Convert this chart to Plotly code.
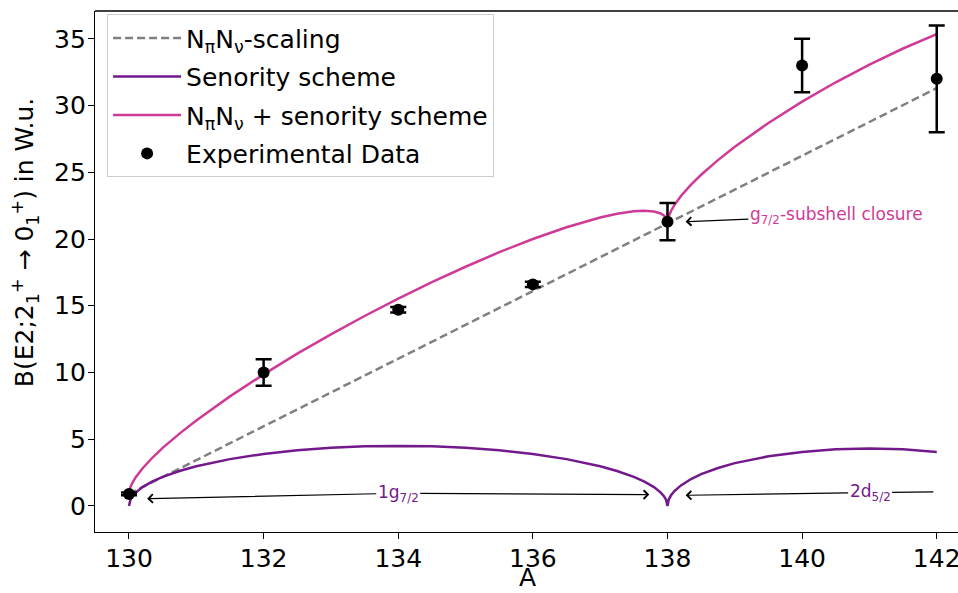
import plotly.graph_objects as go

# Mass number grid for the model curves (denser near the shell closures)
A_model = [130.0, 130.02, 130.05, 130.1, 130.2, 130.35, 130.5, 130.75, 131.0, 131.5,
           132.0, 132.5, 133.0, 133.5, 134.0, 134.5, 135.0, 135.5, 136.0, 136.5,
           137.0, 137.25, 137.5, 137.65, 137.8, 137.9, 137.95, 137.98, 138.0,
           138.02, 138.05, 138.1, 138.2, 138.35, 138.5, 138.75, 139.0, 139.5,
           140.0, 140.5, 141.0, 141.5, 142.0]

# Seniority-scheme B(E2) in W.u.
B_seniority = [0.0, 0.45, 0.71, 1.00, 1.41, 1.84, 2.18, 2.62, 2.98, 3.51,
               3.90, 4.17, 4.36, 4.47, 4.50, 4.47, 4.36, 4.17, 3.90, 3.51,
               2.98, 2.62, 2.18, 1.84, 1.41, 1.00, 0.71, 0.45, 0.0,
               0.50, 0.78, 1.10, 1.54, 2.02, 2.38, 2.84, 3.21, 3.72,
               4.05, 4.24, 4.30, 4.24, 4.05]

# N_pi N_nu + seniority scheme B(E2) in W.u.
B_combined = [0.90, 1.40, 1.74, 2.15, 2.81, 3.63, 4.35, 5.42, 6.41, 8.21,
              9.86, 11.41, 12.86, 14.23, 15.53, 16.77, 17.92, 19.01, 20.00, 20.88,
              21.61, 21.89, 22.08, 22.12, 22.06, 21.91, 21.75, 21.56, 21.17,
              21.71, 22.08, 22.52, 23.22, 24.07, 24.81, 25.91, 26.91, 28.69,
              30.29, 31.74, 33.07, 34.27, 35.35]

# N_pi N_nu scaling (straight line)
A_scaling = [130.0, 142.0]
B_scaling = [0.9, 31.3]

# Experimental values
A_exp = [130, 132, 134, 136, 138, 140, 142]
B_exp = [0.9, 10.0, 14.7, 16.6, 21.3, 33.0, 32.0]
B_exp_err = [0.1, 1.0, 0.2, 0.2, 1.4, 2.0, 4.0]

x_ticks = [130, 132, 134, 136, 138, 140, 142]
y_ticks = [0, 5, 10, 15, 20, 25, 30, 35]

X_TITLE = "A"
Y_TITLE = "B(E2;2<sub>1</sub><sup>+</sup> → 0<sub>1</sub><sup>+</sup>) in W.u."

PINK = "#cf3a97"
PURPLE = "#73198c"
GRAY = "#808080"

fig = go.Figure()

fig.add_trace(go.Scatter(
    x=A_scaling, y=B_scaling, mode="lines", legendgroup="g1",
    name="N<sub>π</sub>N<sub>ν</sub>-scaling",
    line=dict(color=GRAY, width=2.5, dash="8px,4px"),
))
fig.add_trace(go.Scatter(
    x=A_model, y=B_seniority, mode="lines", legendgroup="g2",
    name="Senority scheme",
    line=dict(color=PURPLE, width=2.5),
))
fig.add_trace(go.Scatter(
    x=A_model, y=B_combined, mode="lines", legendgroup="g3",
    name="N<sub>π</sub>N<sub>ν</sub> + senority scheme",
    line=dict(color=PINK, width=2.5),
))
fig.add_trace(go.Scatter(
    x=A_exp, y=B_exp, mode="markers", legendgroup="g4",
    name="Experimental Data",
    marker=dict(color="black", size=12),
    error_y=dict(type="data", array=B_exp_err, visible=True,
                 color="black", thickness=2.5, width=8),
))

arrow = dict(xref="x", yref="y", axref="x", ayref="y", showarrow=True,
             arrowcolor="black", arrowwidth=1.2, arrowhead=4, arrowsize=1.4,
             standoff=0)

annotations = [
    dict(text="g<sub>7/2</sub>-subshell closure", font=dict(size=17, color=PINK),
         x=138.27, y=21.3, ax=140.51, ay=21.75, **arrow),
    dict(text="1g<sub>7/2</sub>", font=dict(size=17, color=PURPLE),
         x=130.27, y=0.55, ax=134.0, ay=0.95, **arrow),
    dict(text="1g<sub>7/2</sub>", font=dict(size=17, color="rgba(0,0,0,0)"),
         x=137.73, y=0.85, ax=134.0, ay=0.95, **arrow),
    dict(text="2d<sub>5/2</sub>", font=dict(size=17, color=PURPLE),
         x=138.27, y=0.8, ax=141.01, ay=1.0, **arrow),
]
line_only = dict(arrow)
line_only["arrowhead"] = 0
annotations.append(dict(text="2d<sub>5/2</sub>", font=dict(size=17, color="rgba(0,0,0,0)"),
                        x=141.95, y=1.05, ax=141.01, ay=1.0, **line_only))

# Axis titles placed as paper-anchored labels
annotations.append(dict(text=X_TITLE, xref="paper", yref="paper", x=0.501, y=-0.087,
                        xanchor="center", yanchor="middle", showarrow=False,
                        font=dict(size=25, color="black")))
annotations.append(dict(text=Y_TITLE, xref="paper", yref="paper", x=-0.0811, y=0.5544,
                        xanchor="center", yanchor="middle", showarrow=False,
                        textangle=-90, font=dict(size=25, color="black")))

fig.update_layout(
    width=958, height=593,
    margin=dict(l=95, r=0, t=11, b=61),
    plot_bgcolor="white", paper_bgcolor="white",
    font=dict(family="DejaVu Sans", size=25, color="black"),
    showlegend=True,
    legend=dict(x=0.014, y=0.994, xanchor="left", yanchor="top",
                bgcolor="rgba(255,255,255,0.8)", bordercolor="#cccccc",
                borderwidth=1, font=dict(size=25), itemwidth=68,
                tracegroupgap=3),
    annotations=annotations,
    shapes=[dict(type="line", xref="paper", yref="paper", x0=0, x1=1, y0=1, y1=1,
                 line=dict(color="black", width=1.3))],
)

fig.update_xaxes(
    range=[129.495, 142.316], tickvals=x_ticks, ticks="outside", ticklen=6,
    tickwidth=1.3, tickcolor="black", showline=True, linewidth=1.3,
    linecolor="black", showgrid=False, zeroline=False, automargin=False,
    ticklabeloverflow="allow", ticklabelstandoff=-2, tickfont=dict(size=25),
)
fig.update_yaxes(
    range=[-1.95, 37.08], tickvals=y_ticks, ticks="outside", ticklen=6,
    tickwidth=1.3, tickcolor="black", showline=True, linewidth=1.3,
    linecolor="black", showgrid=False, zeroline=False, automargin=False,
    ticklabelstandoff=-3, tickfont=dict(size=25),
)

fig.write_html("out.html", config={"displayModeBar": False})
